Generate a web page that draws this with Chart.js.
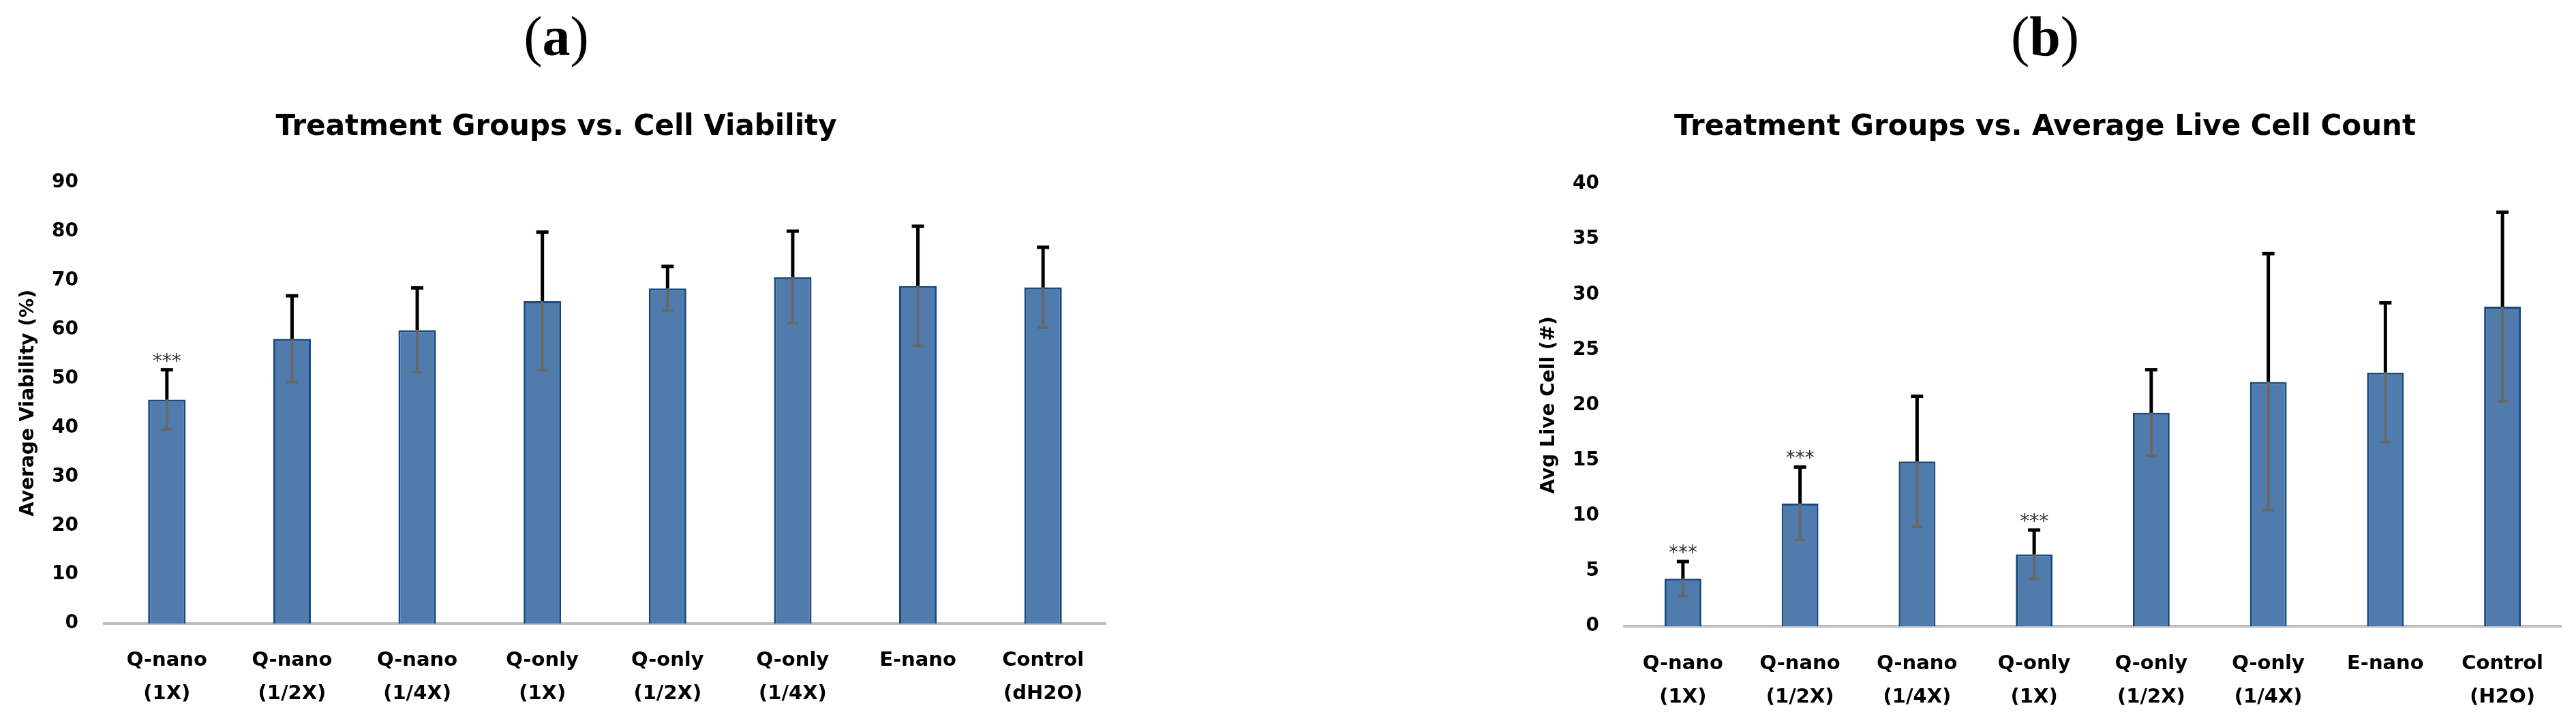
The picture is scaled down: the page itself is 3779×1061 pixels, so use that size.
<!DOCTYPE html>
<html>
<head>
<meta charset="utf-8">
<script src="https://cdn.jsdelivr.net/npm/chart.js@4.4.1/dist/chart.umd.min.js"></script>
<style>
  html, body { margin: 0; padding: 0; background: #ffffff; }
  body { width: 3779px; height: 1061px; position: relative; overflow: hidden; }
  .panel { position: absolute; top: 13px; width: 300px; height: 82px; font-family: "Liberation Serif", serif; font-size: 82px; line-height: 82px; text-align: center; color: #000; }
  canvas { position: absolute; top: 0; }
</style>
</head>
<body>
<div class="panel" style="left:666px">(<b>a</b>)</div>
<div class="panel" style="left:2850px">(<b>b</b>)</div>
<canvas id="chartA" width="1632" height="1061" style="left:0px"></canvas>
<canvas id="chartB" width="1558" height="1061" style="left:2221px"></canvas>
<script>
// ---------- data (a) ----------
const categoriesA = [["Q-nano","(1X)"],["Q-nano","(1/2X)"],["Q-nano","(1/4X)"],["Q-only","(1X)"],["Q-only","(1/2X)"],["Q-only","(1/4X)"],["E-nano"],["Control","(dH2O)"]];
const viabilityA = [45.7, 58.1, 59.9, 65.8, 68.4, 70.7, 68.9, 68.6];
const viabilityErrA = [6.1, 8.8, 8.6, 14.1, 4.5, 9.4, 12.2, 8.2];
const significantA = [true, false, false, false, false, false, false, false];
const titleA = "Treatment Groups vs. Cell Viability";
const yTitleA = "Average Viability (%)";
const yMaxA = 90, yStepA = 10;

// ---------- data (b) ----------
const categoriesB = [["Q-nano","(1X)"],["Q-nano","(1/2X)"],["Q-nano","(1/4X)"],["Q-only","(1X)"],["Q-only","(1/2X)"],["Q-only","(1/4X)"],["E-nano"],["Control","(H2O)"]];
const liveCellB = [4.3, 11.1, 14.9, 6.5, 19.3, 22.1, 22.95, 28.9];
const liveCellErrB = [1.55, 3.3, 5.9, 2.2, 3.9, 11.6, 6.3, 8.55];
const significantB = [true, true, false, true, false, false, false, false];
const titleB = "Treatment Groups vs. Average Live Cell Count";
const yTitleB = "Avg Live Cell (#)";
const yMaxB = 40, yStepB = 5;

const FONT = '"DejaVu Sans", sans-serif';

const errorBarPlugin = {
  id: 'errbars',
  afterDatasetsDraw(chart, args, opts) {
    const ctx = chart.ctx;
    const meta = chart.getDatasetMeta(0);
    const ys = chart.scales.y;
    const vals = chart.data.datasets[0].data;
    ctx.save();
    meta.data.forEach((bar, i) => {
      const v = vals[i], e = opts.errors[i];
      const x = bar.x;
      const pv = ys.getPixelForValue(v);
      const pt = ys.getPixelForValue(v + e);
      const pb = ys.getPixelForValue(v - e);
      ctx.lineCap = 'butt';
      // lower part (inside bar) - grey
      ctx.strokeStyle = '#686868';
      ctx.lineWidth = 4;
      ctx.beginPath(); ctx.moveTo(x, pv); ctx.lineTo(x, pb); ctx.stroke();
      ctx.beginPath(); ctx.moveTo(x - 8, pb); ctx.lineTo(x + 8, pb); ctx.stroke();
      // upper part - black
      ctx.strokeStyle = '#000';
      ctx.lineWidth = 5;
      ctx.beginPath(); ctx.moveTo(x, pv); ctx.lineTo(x, pt); ctx.stroke();
      ctx.beginPath(); ctx.moveTo(x - 9, pt); ctx.lineTo(x + 9, pt); ctx.stroke();
      if (opts.sig[i]) {
        ctx.fillStyle = '#333';
        ctx.font = '28px ' + FONT;
        ctx.textAlign = 'center';
        ctx.textBaseline = 'alphabetic';
        ctx.fillText('***', x, pt - 4);
      }
    });
    ctx.restore();
  }
};

function makeChart(id, cats, vals, errs, sig, cfg) {
  return new Chart(document.getElementById(id), {
    type: 'bar',
    data: {
      labels: cats,
      datasets: [{
        data: vals,
        backgroundColor: 'rgb(79,124,172)',
        borderColor: 'rgb(24,74,128)',
        borderWidth: 3,
        barPercentage: cfg.barPct,
        categoryPercentage: 1
      }]
    },
    options: {
      responsive: false,
      animation: false,
      devicePixelRatio: 1,
      layout: { padding: { left: cfg.padL, right: cfg.padR, top: 0, bottom: 0 } },
      plugins: {
        legend: { display: false },
        tooltip: { enabled: false },
        title: {
          display: true,
          text: cfg.title,
          color: '#000',
          font: { family: FONT, size: 42, weight: 'bold', lineHeight: 1 },
          padding: { top: 166, bottom: cfg.titleBottom }
        },
        errbars: { errors: errs, sig: sig }
      },
      scales: {
        x: {
          grid: { display: false, drawTicks: false },
          border: { display: true, color: '#BFBFBF', width: 4 },
          ticks: {
            color: '#000',
            font: { family: FONT, size: 29, weight: 'bold', lineHeight: 1.69 },
            padding: cfg.xPad,
            maxRotation: 0,
            autoSkip: false
          },
          afterFit(s) { s.height = cfg.xH; }
        },
        y: {
          min: 0,
          max: cfg.max,
          grid: { display: false, drawTicks: false },
          border: { display: false },
          ticks: {
            stepSize: cfg.step,
            color: '#000',
            font: { family: FONT, size: 28, weight: 'bold' },
            padding: cfg.yPad
          },
          title: {
            display: true,
            text: cfg.yTitle,
            color: '#000',
            font: { family: FONT, size: 28, weight: 'bold', lineHeight: 1.2 },
            padding: { top: cfg.yTitlePad, bottom: 0 }
          },
          afterFit(s) { s.width = cfg.yW; }
        }
      }
    },
    plugins: [errorBarPlugin]
  });
}

makeChart('chartA', categoriesA, viabilityA, viabilityErrA, significantA, {
  barPct: 0.30, padL: 10, padR: 10, title: titleA, titleBottom: 60,
  xPad: 29.5, xH: 146, max: yMaxA, step: yStepA, yPad: 38,
  yTitle: yTitleA, yTitlePad: 15, yW: 143
});
makeChart('chartB', categoriesB, liveCellB, liveCellErrB, significantB, {
  barPct: 0.314, padL: 22, padR: 22, title: titleB, titleBottom: 62,
  xPad: 30.5, xH: 142, max: yMaxB, step: yStepB, yPad: 37,
  yTitle: yTitleB, yTitlePad: 13, yW: 140
});
</script>
</body>
</html>
